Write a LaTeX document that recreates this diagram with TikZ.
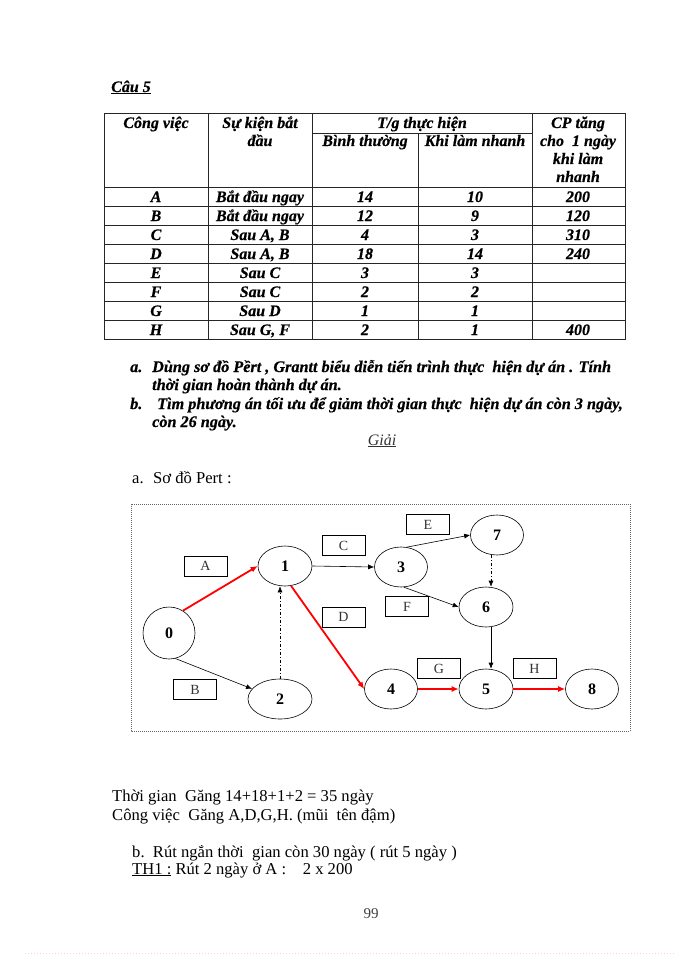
\documentclass[tikz,border=0pt]{standalone}
\usepackage{fontspec}
\setmainfont{Liberation Serif}[BoldItalicFeatures={FakeBold=0.6}]
\usetikzlibrary{shapes.geometric,arrows.meta}
\newcommand{\mytabrow}[7]{%
  \node[tb] (ca#1) at (156,#2) {#3};
  \node[tb] (cb#1) at (260,#2) {#4};
  \node[tb] (cc#1) at (365,#2) {#5};
  \node[tb] (cd#1) at (475,#2) {#6};
  \node[tb] (ce#1) at (578,#2) {#7};}
\begin{document}
\begin{tikzpicture}[x=1pt,y=-1pt,
  tb/.style={font=\fontsize{16}{18}\selectfont\bfseries\itshape, anchor=base, inner sep=0pt},
  para/.style={font=\fontsize{16.2}{18}\selectfont\bfseries\itshape, anchor=base west, inner sep=0pt},
  body/.style={font=\fontsize{16.6}{19}\selectfont, anchor=base west, inner sep=0pt},
  tline/.style={line width=0.8pt, black!85},
  ev/.style={draw, ellipse, line width=0.6pt, minimum width=53pt, minimum height=40pt, inner sep=0pt, font=\fontsize{16}{18}\selectfont\bfseries},
  lab/.style={draw, line width=0.6pt, minimum width=43pt, minimum height=20pt, inner sep=0pt, font=\fontsize{14}{15}\selectfont, text=black!80},
  norm/.style={draw, line width=0.6pt, -{Latex[length=6pt,width=5pt]}},
  dd/.style={norm, dash pattern=on 3pt off 2pt on 1pt off 2pt},
  crit/.style={draw=red, line width=1.8pt, -{Latex[length=7pt,width=6pt]}, red}
]
\useasboundingbox (0,0) rectangle (700,960);

% title
\node[para, font=\fontsize{16}{19}\selectfont\bfseries\itshape] (title) at (111,92) {\underline{Câu 5}};

% table
\draw[tline] (104,113) rectangle (625,339);
\foreach \x in {208,312,532} \draw[tline] (\x,113) -- (\x,339);
\draw[tline] (418,133) -- (418,339);
\draw[tline] (312,133) -- (532,133);
\foreach \y in {187,206,225,244,263,282,301,320} \draw[tline] (104,\y) -- (625,\y);

\node[tb] (h1) at (156,128) {Công việc};
\node[tb] (h2a) at (260,128) {Sự kiện bắt};
\node[tb] (h2b) at (260,146) {đầu};
\node[tb] (h3) at (422,128) {T/g thực hiện};
\node[tb] (h3a) at (365,146) {Bình thường};
\node[tb] (h3b) at (475,146) {Khi làm nhanh};
\node[tb] (h4a) at (578,128) {CP tăng};
\node[tb] (h4b) at (578,146) {cho\ \ 1 ngày};
\node[tb] (h4c) at (578,164) {khi làm};
\node[tb] (h4d) at (578,182) {nhanh};

\mytabrow{1}{202}{A}{Bắt đầu ngay}{14}{10}{200}
\mytabrow{2}{221}{B}{Bắt đầu ngay}{12}{9}{120}
\mytabrow{3}{240}{C}{Sau A, B}{4}{3}{310}
\mytabrow{4}{259}{D}{Sau A, B}{18}{14}{240}
\mytabrow{5}{278}{E}{Sau C}{3}{3}{}
\mytabrow{6}{297}{F}{Sau C}{2}{2}{}
\mytabrow{7}{316}{G}{Sau D}{1}{1}{}
\mytabrow{8}{335}{H}{Sau G, F}{2}{1}{400}

% questions
\node[para] (qa) at (130,372) {a.};
\node[para] (qa1) at (152,372) {Dùng sơ đồ Pềrt , Grantt biểu diễn tiến trình thực\ \ hiện dự án . Tính};
\node[para] (qa2) at (152,390) {thời gian hoàn thành dự án.};
\node[para] (qb) at (130,409) {b.};
\node[para] (qb1) at (157,409) {Tìm phương án tối ưu để giảm thời gian thực\ \ hiện dự án còn 3 ngày,};
\node[para] (qb2) at (152,427) {còn 26 ngày.};

\node[font=\fontsize{16}{18}\selectfont\itshape, anchor=base, inner sep=0pt, text=black!80] (giai) at (382,445) {\underline{Giải}};

\node[body] (pa) at (132,483) {a.};
\node[body] (pa1) at (153,483) {Sơ đồ Pert :};

% diagram frame
\draw[black!60, line width=0.6pt, dash pattern=on 1pt off 1pt] (131,504) rectangle (630,731);

% events
\node[ev, minimum width=52pt, minimum height=52pt] (n0) at (169,633) {0};
\node[ev, minimum width=54pt] (n1) at (285,566) {1};
\node[ev, minimum width=64pt] (n2) at (280,699) {2};
\node[ev] (n3) at (401,567) {3};
\node[ev] (n4) at (391,689) {4};
\node[ev, minimum width=54pt] (n5) at (486,689) {5};
\node[ev, minimum width=54pt] (n6) at (486,607) {6};
\node[ev] (n7) at (497,535) {7};
\node[ev] (n8) at (592,689) {8};

% activity labels
\node[lab] (lA) at (205.5,566) {A};
\node[lab] (lB) at (195,689.5) {B};
\node[lab] (lC) at (343.5,545.5) {C};
\node[lab] (lD) at (343.5,617) {D};
\node[lab] (lE) at (428,524.5) {E};
\node[lab] (lF) at (407,606.5) {F};
\node[lab] (lG) at (439,668.5) {G};
\node[lab] (lH) at (534.5,668.5) {H};

% arrows
\draw[crit] (n0.58) -- (n1.west);
\draw[crit] (n1.-73) -- (n4.west);
\draw[crit] (n4.east) -- (n5.west);
\draw[crit] (n5.east) -- (n8.west);
\draw[norm] (n0.-76) -- (n2.160);
\draw[dd] (n2.north) -- (n2.north |- n1.south);
\draw[norm] (n1.east) -- (n3.west);
\draw[norm] (n3.74) -- (n7.west);
\draw[norm] (n3.-82) -- (n6.west);
\draw[dd] (n7.south -| 491,0) -- (n6.north -| 491,0);
\draw[norm] (n6.south -| 491,0) -- (n5.north -| 491,0);

% bottom text
\node[body] (t1) at (112,801) {Thời gian\ \ Găng 14+18+1+2 = 35 ngày};
\node[body] (t2) at (112,820) {Công việc\ \ Găng A,D,G,H. (mũi\ \ tên đậm)};
\node[body] (t3) at (132,857) {b.\ \ Rút ngắn thời\ \ gian còn 30 ngày ( rút 5 ngày )};
\node[body] (t4) at (132,874) {\underline{TH1 :} Rút 2 ngày ở A :\ \ \ \ 2 x 200};
\node[font=\fontsize{15}{18}\selectfont, anchor=base, inner sep=0pt, text=black!75] (pg) at (371,918) {99};

\draw[pink!70, line width=0.5pt, dash pattern=on 0.6pt off 2.4pt] (25,953) -- (674,953);
\end{tikzpicture}
\end{document}
